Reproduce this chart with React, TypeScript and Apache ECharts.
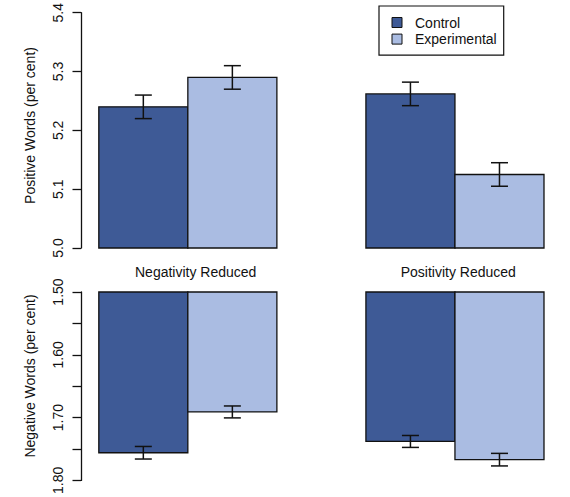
import { useEffect, useRef } from "react";
import * as echarts from "echarts";

// Word-use percentages per condition (mean and standard error)
const categories = ["Negativity Reduced", "Positivity Reduced"];
const groups = ["Control", "Experimental"];

const positiveControl = [5.24, 5.262];
const positiveControlErr = [0.02, 0.02];
const positiveExperimental = [5.29, 5.125];
const positiveExperimentalErr = [0.02, 0.02];

const negativeControl = [1.756, 1.738];
const negativeControlErr = [0.01, 0.0095];
const negativeExperimental = [1.691, 1.767];
const negativeExperimentalErr = [0.0095, 0.01];

const positiveTicks = [5.0, 5.1, 5.2, 5.3, 5.4];
const negativeTicks = [1.5, 1.6, 1.7, 1.8];

const FONT = "'Liberation Sans', Arial, Helvetica, sans-serif";
const FONT_SIZE = 14;
const INK = "#111";
const COLORS = ["#3E5A96", "#AABCE2"];

// Bars are one unit wide, grouped side by side, with one unit of space before each group
const barStart = (catIndex: number, groupIndex: number) => 1 + catIndex * 3 + groupIndex;

const rows = (values: number[], errs: number[], groupIndex: number) =>
  values.map((v, i) => [barStart(i, groupIndex), v, errs[i]]);

const makeRender = (base: number, color: string) => (_params: any, api: any) => {
  const x0 = api.value(0);
  const v = api.value(1);
  const e = api.value(2);
  const p0 = api.coord([x0, base]);
  const p1 = api.coord([x0 + 1, v]);
  const xm = api.coord([x0 + 0.5, v])[0];
  const yHi = api.coord([x0 + 0.5, v + e])[1];
  const yLo = api.coord([x0 + 0.5, v - e])[1];
  const cap = 8.5;
  const lineStyle = { stroke: INK, lineWidth: 1.5 };
  return {
    type: "group",
    children: [
      {
        type: "rect",
        shape: {
          x: Math.min(p0[0], p1[0]),
          y: Math.min(p0[1], p1[1]),
          width: Math.abs(p1[0] - p0[0]),
          height: Math.abs(p1[1] - p0[1]),
        },
        style: { fill: color, stroke: INK, lineWidth: 1.3 },
      },
      { type: "line", shape: { x1: xm, y1: yHi, x2: xm, y2: yLo }, style: lineStyle },
      { type: "line", shape: { x1: xm - cap, y1: yHi, x2: xm + cap, y2: yHi }, style: lineStyle },
      { type: "line", shape: { x1: xm - cap, y1: yLo, x2: xm + cap, y2: yLo }, style: lineStyle },
    ],
  };
};

const isMajor = (v: number, ticks: number[]) => ticks.some((t) => Math.abs(t - v) < 1e-6);

const yAxisBase = {
  type: "value" as const,
  axisLine: { show: true, lineStyle: { color: INK, width: 1.3 } },
  axisTick: { show: true, length: 8.5, lineStyle: { color: INK, width: 1.3 } },
  splitLine: { show: false },
};

const labelBase = {
  rotate: 90,
  margin: 16,
  fontSize: FONT_SIZE,
  fontFamily: FONT,
  color: INK,
  showMinLabel: true,
  showMaxLabel: true,
};

export default function App() {
  const ref = useRef<HTMLDivElement>(null);

  useEffect(() => {
    if (!ref.current) return;
    const chart = echarts.init(ref.current, null, { renderer: "svg" });

    const series: any[] = [];
    groups.forEach((g, gi) => {
      const pos = gi === 0 ? rows(positiveControl, positiveControlErr, gi) : rows(positiveExperimental, positiveExperimentalErr, gi);
      const neg = gi === 0 ? rows(negativeControl, negativeControlErr, gi) : rows(negativeExperimental, negativeExperimentalErr, gi);
      series.push({
        name: g,
        type: "custom",
        xAxisIndex: 0,
        yAxisIndex: 0,
        data: pos,
        encode: { x: 0, y: 1 },
        itemStyle: { color: COLORS[gi] },
        renderItem: makeRender(positiveTicks[0], COLORS[gi]),
      });
      series.push({
        name: g,
        type: "custom",
        xAxisIndex: 1,
        yAxisIndex: 1,
        data: neg,
        encode: { x: 0, y: 1 },
        itemStyle: { color: COLORS[gi] },
        renderItem: makeRender(negativeTicks[0], COLORS[gi]),
      });
    });

    const titleX = [195.7, 458.3];
    const font = `${FONT_SIZE}px ${FONT}`;

    chart.setOption({
      animation: false,
      backgroundColor: "#fff",
      grid: [
        { left: 81, right: 8.2, top: 9.5, height: 238.5, containLabel: false },
        { left: 81, right: 8.2, top: 292, height: 197, containLabel: false },
      ],
      xAxis: [
        { type: "value", gridIndex: 0, min: 0.8, max: 6.2, show: false },
        { type: "value", gridIndex: 1, min: 0.8, max: 6.2, show: false },
      ],
      yAxis: [
        {
          ...yAxisBase,
          gridIndex: 0,
          min: positiveTicks[0],
          max: positiveTicks[positiveTicks.length - 1],
          interval: 0.1,
          axisLabel: { ...labelBase, formatter: (v: number) => v.toFixed(1) },
        },
        {
          ...yAxisBase,
          gridIndex: 1,
          inverse: true,
          min: negativeTicks[0],
          max: negativeTicks[negativeTicks.length - 1],
          interval: 0.05,
          axisLabel: {
            ...labelBase,
            formatter: (v: number) => (isMajor(v, negativeTicks) ? v.toFixed(2) : ""),
          },
        },
      ],
      legend: {
        data: groups,
        orient: "vertical",
        left: 379,
        top: 6,
        icon: "rect",
        itemWidth: 10,
        itemHeight: 10,
        itemGap: 2.6,
        padding: [9.5, 7, 9, 12.5],
        borderColor: INK,
        borderWidth: 1.2,
        itemStyle: { borderColor: INK, borderWidth: 1 },
        textStyle: { fontSize: FONT_SIZE, lineHeight: 14, fontFamily: FONT, color: INK, padding: [0, 0, 0, 8] },
      },
      graphic: [
        ...categories.map((c, i) => ({
          type: "text",
          x: titleX[i],
          y: 272.3,
          style: { text: c, font, fill: INK, align: "center", verticalAlign: "middle" },
        })),
        {
          type: "text",
          x: 30,
          y: 125.5,
          rotation: Math.PI / 2,
          style: { text: "Positive Words (per cent)", font, fill: INK, align: "center", verticalAlign: "middle" },
        },
        {
          type: "text",
          x: 30,
          y: 376,
          rotation: Math.PI / 2,
          style: { text: "Negative Words (per cent)", font, fill: INK, align: "center", verticalAlign: "middle" },
        },
      ],
      series,
    });

    return () => chart.dispose();
  }, []);

  return <div ref={ref} style={{ width: 570, height: 497, position: "absolute", left: 0, top: 0 }} />;
}
